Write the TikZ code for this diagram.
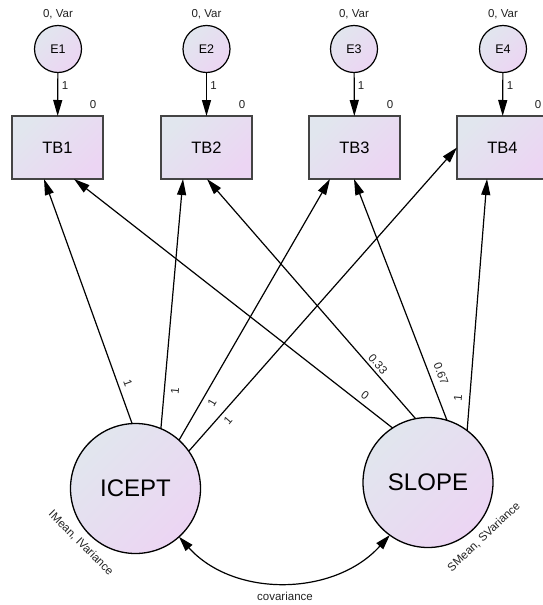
\documentclass[tikz,border=0pt]{standalone}
\usepackage{fontspec}
\setmainfont{Liberation Sans}
\usetikzlibrary{arrows.meta,calc}
\definecolor{fillA}{HTML}{E1E6EE}
\definecolor{fillB}{HTML}{ECD5F3}
\definecolor{labc}{HTML}{222222}
\definecolor{boxline}{HTML}{444444}
\tikzset{
  gfill/.style={top color=fillA,bottom color=fillB,shading angle=45},
  errnode/.style={circle,draw=black,line width=1.2pt,gfill,minimum size=47pt,inner sep=0pt,outer sep=0pt,font=\fontsize{12.5}{14}\selectfont},
  obsnode/.style={rectangle,draw=boxline,line width=1.8pt,gfill,minimum width=91pt,minimum height=63pt,inner sep=0pt,outer sep=0pt,font=\fontsize{16.5}{19}\selectfont},
  latnode/.style={circle,draw=black,line width=1.3pt,gfill,minimum size=130pt,inner sep=0pt,outer sep=0pt,font=\fontsize{24}{28}\selectfont},
  lab/.style={text=labc,inner sep=0pt,font=\fontsize{11.5}{13}\selectfont},
  arr/.style={line width=1.2pt,-{Triangle[length=16pt,width=9pt]}},
  arrboth/.style={line width=1.2pt,{Triangle[length=15pt,width=9pt]}-{Triangle[length=15pt,width=9pt]}},
}
\begin{document}
\begin{tikzpicture}[x=1pt,y=1pt]
\useasboundingbox (0,0) rectangle (542,-605);
% error terms
\node[errnode] (e1) at (58,-49) {E1};
\node[errnode] (e2) at (206.5,-49) {E2};
\node[errnode] (e3) at (354,-49) {E3};
\node[errnode] (e4) at (503,-49) {E4};
% observed
\node[obsnode] (tb1) at (57.5,-147.5) {TB1};
\node[obsnode] (tb2) at (206.5,-147.5) {TB2};
\node[obsnode] (tb3) at (354.5,-147.5) {TB3};
\node[obsnode] (tb4) at (502.5,-147.5) {TB4};
% latent
\node[latnode] (icept) at (135.5,-488.5) {ICEPT};
\node[latnode] (slope) at (428,-482.5) {SLOPE};
% error labels, arrows
\foreach \i in {1,2,3,4}{
  \node[lab] (ev\i) at ($(e\i.north)+(0,11.5)$) {0, Var};
  \draw[arr] (e\i) -- (tb\i);
  \node[lab] (el\i) at ($(e\i.south)+(7,-13)$) {1};
  \node[lab] (im\i) at ($(tb\i.north east)+(-10,11)$) {0};
}
% ICEPT paths
\draw[arr] (icept.93.1) -- ($(tb1.south)+(-13.5,0)$);
\draw[arr] (icept.67.5) -- ($(tb2.south)+(-23.5,0)$);
\draw[arr] (icept.48) -- ($(tb3.south)+(-24.5,0)$);
\draw[arr] (icept.35.9) -- (tb4.west);
% SLOPE paths
\draw[arr] (slope.123.9) -- ($(tb1.south)+(16.5,0)$);
\draw[arr] (slope.101.6) -- ($(tb2.south)+(0.5,0)$);
\draw[arr] (slope.73.9) -- ($(tb3.south)+(-0.5,0)$);
\draw[arr] (slope.53.4) -- ($(tb4.south)+(-15.5,0)$);
% path labels
\node[lab,rotate=-70] (li1) at (128,-383) {1};
\node[lab,rotate=85] (li2) at (175,-391) {1};
\node[lab,rotate=60] (li3) at (212,-403) {1};
\node[lab,rotate=49] (li4) at (228,-420) {1};
\node[lab,rotate=-38] (ls1) at (365,-395) {0};
\node[lab,rotate=-49] (ls2) at (378,-364) {0.33};
\node[lab,rotate=-69] (ls3) at (441,-374) {0.67};
\node[lab,rotate=85] (ls4) at (458,-398) {1};
% variances
\node[lab,rotate=-45] (iv) at (81,-543) {IMean, IVariance};
\node[lab,rotate=43.5] (sv) at (484,-537) {SMean, SVariance};
% covariance
\draw[arrboth] (icept.-48.8) to[out=-48,in=-132] (slope.-126);
\node[lab] (cov) at (285,-596) {covariance};
\end{tikzpicture}
\end{document}
